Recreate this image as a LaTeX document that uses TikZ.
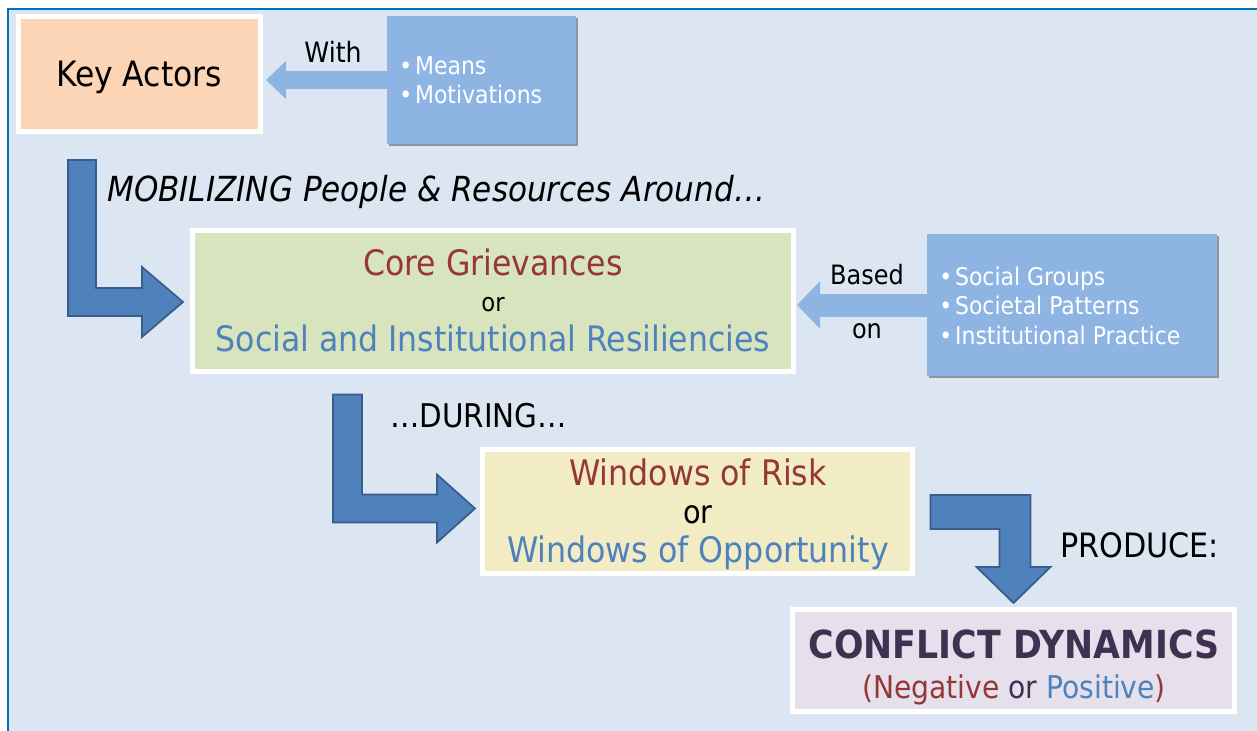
\documentclass[tikz,border=0pt]{standalone}
\usepackage{fontspec}
\setmainfont{DejaVu Sans Condensed}
\usetikzlibrary{calc,shadows,arrows.meta}

\definecolor{pagebg}{HTML}{DCE6F2}
\definecolor{frameline}{HTML}{0070C0}
\definecolor{peach}{HTML}{FBD5B5}
\definecolor{listblue}{HTML}{8EB4E3}
\definecolor{sage}{HTML}{D7E4BD}
\definecolor{cream}{HTML}{F2ECC4}
\definecolor{lavender}{HTML}{E5E0EC}
\definecolor{arrowblue}{HTML}{4F81BD}
\definecolor{arrowedge}{HTML}{385D8A}
\definecolor{darkred}{HTML}{953735}
\definecolor{textblue}{HTML}{4F81BD}
\definecolor{plum}{HTML}{403151}

\newcommand{\fs}[1]{\fontsize{#1}{#1}\selectfont}
\newcommand{\bul}{•\hspace{0.12em}}

\begin{document}
\begin{tikzpicture}[x=0.75pt,y=-0.75pt,
  softshadow/.style={drop shadow={shadow xshift=1.8pt,shadow yshift=-1.8pt,opacity=0.35,fill=black}},
  framedbox/.style={draw=white,line width=3.75pt,inner sep=0pt,softshadow},
  listbox/.style={fill=listblue,inner sep=0pt,softshadow},
  blockarrow/.style={fill=arrowblue,draw=arrowedge,line width=1.3pt,line join=miter},
  lbl/.style={anchor=base,inner sep=0pt},
  lblw/.style={anchor=base west,inner sep=0pt},
  bullet/.style={lblw,text=white,font=\fs{18.3}}]

% page and frame
\useasboundingbox (0,0) rectangle (1257,731);
\clip (0,0) rectangle (1257,731);
\fill[white] (0,0) rectangle (1257,731);
\draw[frameline,fill=pagebg,line width=1.6pt] (8,9) rectangle (1270,745);

% boxes
\node[framedbox,fill=peach,minimum width=181.5pt,minimum height=86.25pt] (keyactors) at (139.5,74) {};
\node[listbox,minimum width=141.75pt,minimum height=96pt] (means) at (481.5,80) {};
\node[framedbox,fill=sage,minimum width=450.75pt,minimum height=105.75pt] (core) at (493,301) {};
\node[listbox,minimum width=217.5pt,minimum height=106.5pt] (social) at (1072,305) {};
\node[framedbox,fill=cream,minimum width=322.5pt,minimum height=93pt] (windows) at (697.5,511.5) {};
\node[framedbox,fill=lavender,minimum width=331.5pt,minimum height=76.5pt] (conflict) at (1013.5,660.5) {};

% light arrows feeding the boxes
\draw[listblue,line width=13.5pt,-{Triangle[length=15pt,width=27.75pt]}]
  (means.west) -- ($(keyactors.east |- means.west)+(3,0)$);
\draw[listblue,line width=17.25pt,-{Triangle[length=17.25pt,width=34.5pt]}]
  (social.west) -- ($(core.east |- social.west)+(1,0)$);

% bent block arrows
\coordinate (tip1) at ($(core.west)+(-7,1)$);
\draw[blockarrow] (tip1) -- ++(-41,-35) -- ++(0,21) -- ++(-46,0) -- ++(0,-128)
  -- ++(-28,0) -- ++(0,156) -- ++(74,0) -- ++(0,21) -- cycle;
\coordinate (tip2) at ($(windows.west)+(-5,-3)$);
\draw[blockarrow] (tip2) -- ++(-38,-34) -- ++(0,20) -- ++(-75,0) -- ++(0,-100)
  -- ++(-29,0) -- ++(0,128) -- ++(104,0) -- ++(0,20) -- cycle;
\coordinate (tip3) at ($(conflict.north)+(0,-4)$);
\draw[blockarrow] (tip3) -- ++(-37,-36) -- ++(23,0) -- ++(0,-38) -- ++(-69,0)
  -- ++(0,-34) -- ++(100,0) -- ++(0,72) -- ++(20,0) -- cycle;

% texts
\node[lbl,font=\fs{26.2}] (tkey) at (139,87) {Key Actors};
\node[lbl,font=\fs{21}] (twith) at (333,63) {With};
\node[bullet] (tmeans) at (399,75) {\bul Means};
\node[bullet] (tmotiv) at (399,104) {\bul Motivations};

\node[lblw,font=\fs{25.9}\itshape] (tmob) at (107,202) {MOBILIZING People \& Resources Around…};

\node[lbl,font=\fs{26.3},text=darkred] (tcore) at (493,276) {Core Grievances};
\node[lbl,font=\fs{19}] (tor1) at (493,311) {or};
\node[lbl,font=\fs{26.3},text=textblue] (tres) at (493,351) {Social and Institutional Resiliencies};

\node[lbl,font=\fs{20}] (tbased) at (867,284) {Based};
\node[lbl,font=\fs{20}] (ton) at (867,338) {on};
\node[bullet] (tgroups) at (939,285) {\bul Social Groups};
\node[bullet] (tpatterns) at (939,314) {\bul Societal Patterns};
\node[bullet] (tpractice) at (939,344) {\bul Institutional Practice};

\node[lblw,font=\fs{24.5}] (tduring) at (390,427) {…DURING…};

\node[lbl,font=\fs{26.4},text=darkred] (trisk) at (698,485) {Windows of Risk};
\node[lbl,font=\fs{24}] (tor2) at (698,523) {or};
\node[lbl,font=\fs{26.4},text=textblue] (topp) at (698,562) {Windows of Opportunity};

\node[lblw,font=\fs{25.2}] (tproduce) at (1060,557) {PRODUCE:};

\node[lbl,font=\fs{29}\bfseries,text=plum] (tconflict) at (1014,658) {CONFLICT DYNAMICS};
\node[lbl,font=\fs{23.5}] (tsign) at (1014,698)
  {\textcolor{darkred}{(Negative} \textcolor{plum}{or} \textcolor{textblue}{Positive}\textcolor{darkred}{)}};
\end{tikzpicture}
\end{document}
